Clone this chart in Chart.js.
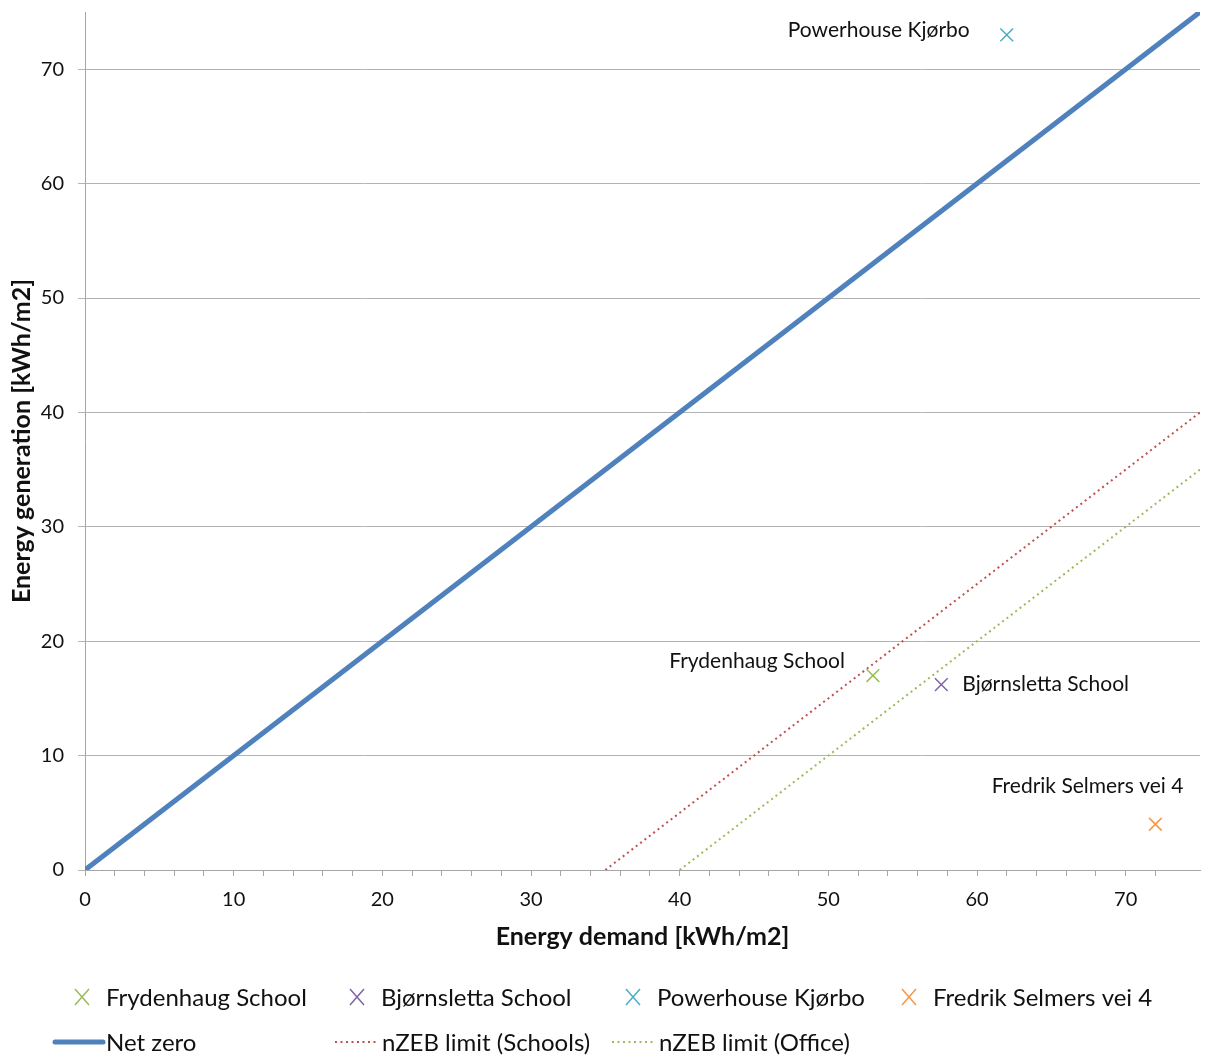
<!DOCTYPE html>
<html><head><meta charset="utf-8">
<script src="https://cdn.jsdelivr.net/npm/chart.js@4/dist/chart.umd.min.js"></script>
<style>html,body{margin:0;padding:0;background:#fff;overflow:hidden}</style>
</head><body>
<canvas id="c" width="1211" height="1062"></canvas>
<script>
// ---- data ----
const buildings = ["Frydenhaug School", "Bjørnsletta School", "Powerhouse Kjørbo", "Fredrik Selmers vei 4"];
const demand = [53, 57.6, 62, 72];
const generation = [17, 16.2, 73, 4];
const netZeroX = [0, 75], netZeroY = [0, 75];
const schoolsX = [35, 75], schoolsY = [0, 40];
const officeX = [40, 75], officeY = [0, 35];
const lineNames = ["Net zero", "nZEB limit (Schools)", "nZEB limit (Office)"];
const xTitle = "Energy demand [kWh/m2]";
const yTitle = "Energy generation [kWh/m2]";

// ---- styles ----
const FONT = "Lato, 'Open Sans', sans-serif";
const pointColors = ["#9bbb59", "#8064a2", "#4bacc6", "#f79646"];
const lineColors = ["#4f81bd", "#c0504d", "#9bbb59"];
// label placement: [dx, dy, align]
const labelPlace = [[-28, -14, 'right'], [21, 0, 'left'], [-37, -5, 'right'], [28, -38, 'right']];

const toPts = (xs, ys) => xs.map((x, i) => ({x: x, y: ys[i]}));

const datasets = [];
buildings.forEach((b, i) => {
  datasets.push({
    label: b, data: [{x: demand[i], y: generation[i]}],
    pointStyle: 'crossRot', pointRadius: 9, pointBorderWidth: 1.5,
    borderColor: pointColors[i], backgroundColor: pointColors[i], showLine: false
  });
});
datasets.push({label: lineNames[0], data: toPts(netZeroX, netZeroY), showLine: true, pointRadius: 0,
  borderColor: lineColors[0], borderWidth: 5});
datasets.push({label: lineNames[1], data: toPts(schoolsX, schoolsY), showLine: true, pointRadius: 0,
  borderColor: lineColors[1], borderWidth: 2, borderDash: [2, 3.5]});
datasets.push({label: lineNames[2], data: toPts(officeX, officeY), showLine: true, pointRadius: 0,
  borderColor: lineColors[2], borderWidth: 2, borderDash: [2, 3.5]});

const labelPlugin = {
  id: 'labels',
  afterDatasetsDraw(chart) {
    const ctx = chart.ctx, xs = chart.scales.x, ys = chart.scales.y;
    ctx.save();
    ctx.font = "21px " + FONT;
    ctx.fillStyle = "#111";
    ctx.textBaseline = 'middle';
    buildings.forEach((b, i) => {
      const px = xs.getPixelForValue(demand[i]), py = ys.getPixelForValue(generation[i]);
      const p = labelPlace[i];
      ctx.textAlign = p[2];
      ctx.fillText(b, px + p[0], py + p[1]);
    });
    ctx.restore();
  }
};

const legendPlugin = {
  id: 'customLegend',
  afterDraw(chart) {
    const ctx = chart.ctx;
    ctx.save();
    ctx.font = "24px " + FONT;
    ctx.fillStyle = "#111";
    ctx.textBaseline = 'middle';
    ctx.textAlign = 'left';
    const row1 = 997, row2 = 1042;
    const mx = [82, 357, 633, 909];
    buildings.forEach((b, i) => {
      const x = mx[i];
      ctx.strokeStyle = pointColors[i]; ctx.lineWidth = 1.5;
      ctx.beginPath();
      ctx.moveTo(x - 7, row1 - 8); ctx.lineTo(x + 7, row1 + 8);
      ctx.moveTo(x + 7, row1 - 8); ctx.lineTo(x - 7, row1 + 8);
      ctx.stroke();
      ctx.fillText(b, x + 24, row1 + 1);
    });
    const ls = [[55, 103, 106], [335, 378, 382], [612, 655, 659]];
    lineNames.forEach((n, i) => {
      const d = datasets[buildings.length + i];
      ctx.strokeStyle = lineColors[i]; ctx.lineWidth = d.borderWidth;
      ctx.lineCap = i === 0 ? 'round' : 'butt';
      ctx.setLineDash(d.borderDash || []);
      ctx.beginPath(); ctx.moveTo(ls[i][0], row2); ctx.lineTo(ls[i][1], row2); ctx.stroke();
      ctx.setLineDash([]);
      ctx.fillText(n, ls[i][2], row2 + 1);
    });
    ctx.restore();
  }
};

new Chart(document.getElementById('c'), {
  type: 'scatter',
  data: {datasets},
  plugins: [labelPlugin, legendPlugin],
  options: {
    responsive: false, animation: false, devicePixelRatio: 1,
    layout: {padding: {left: 0, right: 11, top: 12, bottom: 102}},
    plugins: {legend: {display: false}, tooltip: {enabled: false}},
    scales: {
      x: {
        type: 'linear', min: 0, max: 75,
        ticks: {stepSize: 2, autoSkip: false, maxRotation: 0, padding: 12, color: '#111',
          font: {size: 20, family: FONT},
          callback: v => (v % 10 === 0 ? String(v) : '')},
        afterBuildTicks: s => { s.ticks = s.ticks.filter(t => t.value % 2 === 0); },
        grid: {drawOnChartArea: false, drawTicks: true, tickLength: 6, color: '#a6a6a6'},
        border: {color: '#a6a6a6', width: 1},
        title: {display: true, text: xTitle, color: '#111', font: {size: 25, weight: 'bold', family: FONT},
          padding: {top: 0, bottom: 8}},
        afterFit: s => { s.height = 90; s.paddingLeft = 0; s.paddingRight = 0; }
      },
      y: {
        type: 'linear', min: 0, max: 75,
        ticks: {stepSize: 10, padding: 14, color: '#111', font: {size: 20, family: FONT}},
        afterBuildTicks: s => { s.ticks = s.ticks.filter(t => t.value % 10 === 0); },
        grid: {drawOnChartArea: true, drawTicks: true, tickLength: 7, color: '#b3b3b3'},
        border: {color: '#a6a6a6', width: 1},
        title: {display: true, text: yTitle, color: '#111', font: {size: 25, weight: 'bold', family: FONT},
          padding: {top: 7, bottom: 0}},
        afterFit: s => { s.width = 85; s.paddingTop = 0; s.paddingBottom = 0; }
      }
    }
  }
});
</script>
</body></html>
